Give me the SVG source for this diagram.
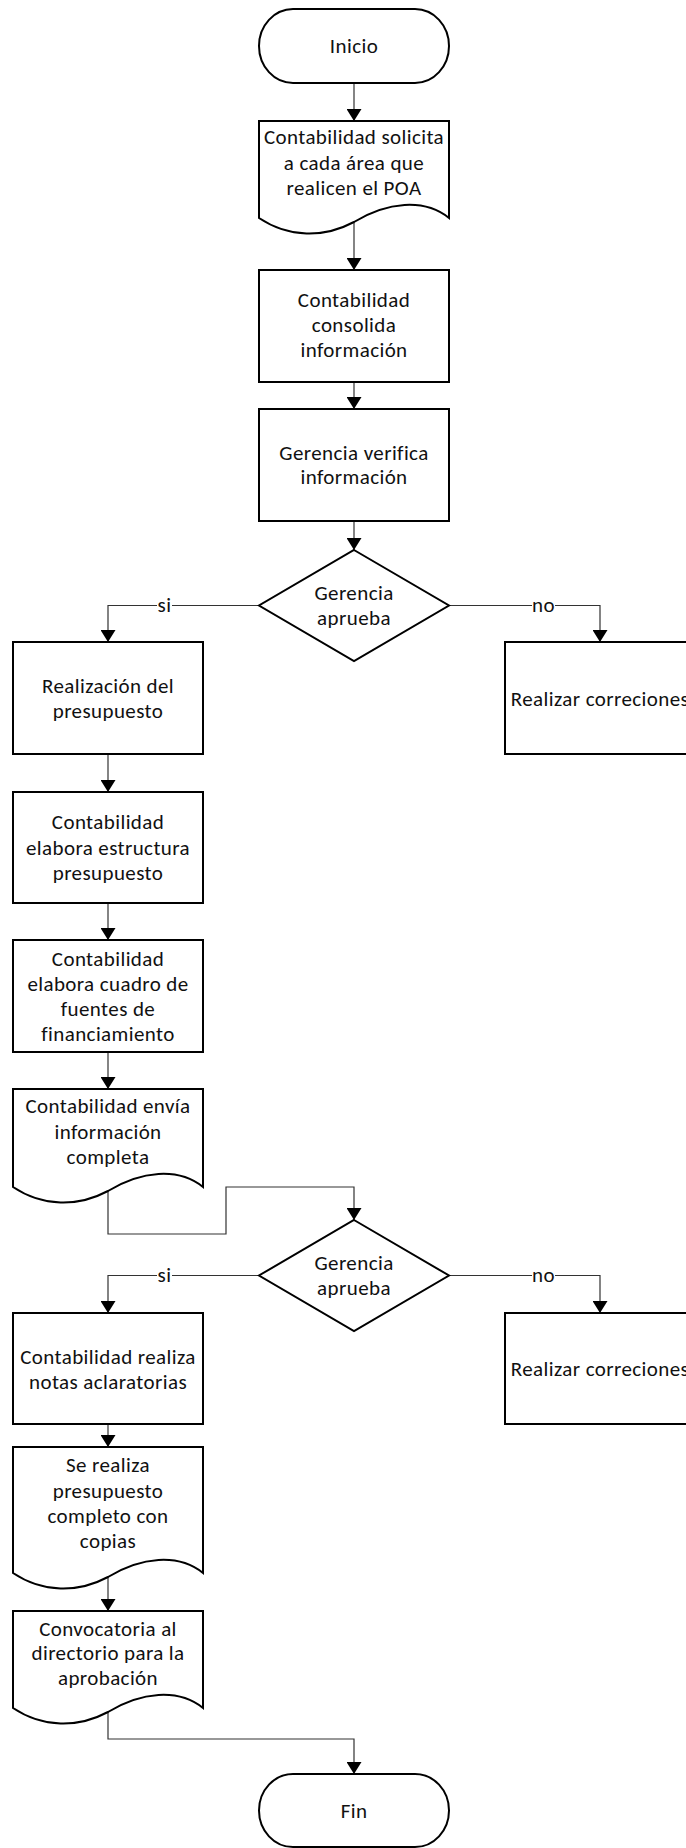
<svg xmlns="http://www.w3.org/2000/svg" width="686" height="1848" viewBox="0 0 686 1848">
  <defs>
    <marker id="arrow" viewBox="0 0 12 15" refX="12" refY="7.5" markerWidth="12" markerHeight="15" markerUnits="userSpaceOnUse" orient="auto">
      <path d="M0,0 L12,7.5 L0,15 Z" fill="#000"/>
    </marker>
    <style>
      .shape { fill: #fff; stroke: #000; stroke-width: 2; }
      .conn { fill: none; stroke: #333; stroke-width: 1.2; }
      .arrow { marker-end: url(#arrow); }
      text { font-family: Calibri, Carlito, "Liberation Sans", Arial, sans-serif; font-size: 21px; letter-spacing: 0.4px; fill: #111; text-anchor: middle; dominant-baseline: central; }
    </style>
  </defs>

  <rect width="686" height="1848" fill="#fff"/>

  <!-- connectors -->
  <g id="connectors">
    <path class="conn arrow" d="M354,83 V121"/>
    <path class="conn arrow" d="M354,222 V270"/>
    <path class="conn arrow" d="M354,382 V409"/>
    <path class="conn arrow" d="M354,521 V550"/>
    <path class="conn arrow" d="M259,605.5 H172 M157,605.5 H108 V642"/>
    <path class="conn arrow" d="M449,605.5 H532 M555,605.5 H600 V642"/>
    <text x="164.5" y="605">si</text>
    <text x="543.5" y="605">no</text>
    <path class="conn arrow" d="M108,754 V792"/>
    <path class="conn arrow" d="M108,903 V940"/>
    <path class="conn arrow" d="M108,1052 V1089"/>
    <path class="conn arrow" d="M108,1191 V1234 H226 V1187 H354 V1220"/>
    <path class="conn arrow" d="M259,1275.5 H172 M157,1275.5 H108 V1313"/>
    <path class="conn arrow" d="M449,1275.5 H532 M555,1275.5 H600 V1313"/>
    <text x="164.5" y="1275">si</text>
    <text x="543.5" y="1275">no</text>
    <path class="conn arrow" d="M108,1424 V1447"/>
    <path class="conn arrow" d="M108,1577 V1611"/>
    <path class="conn arrow" d="M108,1712 V1739 H354 V1774"/>
  </g>

  <!-- start -->
  <g id="inicio">
    <rect class="shape" x="259" y="9" width="190" height="74" rx="34" ry="37"/>
    <text x="354" y="46">Inicio</text>
  </g>

  <g id="solicita-poa">
    <path class="shape" d="M259,121 H449 V218 C424,198 387,202 354,222 C324,238 289,238 259,218 Z"/>
    <text x="354" y="137">Contabilidad solicita</text>
    <text x="354" y="163">a cada área que</text>
    <text x="354" y="188">realicen el POA</text>
  </g>

  <g id="consolida">
    <rect class="shape" x="259" y="270" width="190" height="112"/>
    <text x="354" y="300">Contabilidad</text>
    <text x="354" y="325">consolida</text>
    <text x="354" y="350">información</text>
  </g>

  <g id="verifica">
    <rect class="shape" x="259" y="409" width="190" height="112"/>
    <text x="354" y="453">Gerencia verifica</text>
    <text x="354" y="477">información</text>
  </g>

  <g id="aprueba-1">
    <path class="shape" d="M354,550 L449,605.5 L354,661 L259,605.5 Z"/>
    <text x="354" y="593">Gerencia</text>
    <text x="354" y="618">aprueba</text>
  </g>

  <g id="realizacion">
    <rect class="shape" x="13" y="642" width="190" height="112"/>
    <text x="108" y="686">Realización del</text>
    <text x="108" y="711">presupuesto</text>
  </g>

  <g id="correcciones-1">
    <rect class="shape" x="505" y="642" width="190" height="112"/>
    <text x="600" y="699">Realizar correciones</text>
  </g>

  <g id="estructura">
    <rect class="shape" x="13" y="792" width="190" height="111"/>
    <text x="108" y="822">Contabilidad</text>
    <text x="108" y="848">elabora estructura</text>
    <text x="108" y="873">presupuesto</text>
  </g>

  <g id="financiamiento">
    <rect class="shape" x="13" y="940" width="190" height="112"/>
    <text x="108" y="959">Contabilidad</text>
    <text x="108" y="984">elabora cuadro de</text>
    <text x="108" y="1009">fuentes de</text>
    <text x="108" y="1034">financiamiento</text>
  </g>

  <g id="envia">
    <path class="shape" d="M13,1089 H203 V1187 C178,1167 141,1171 108,1191 C78,1207 43,1207 13,1187 Z"/>
    <text x="108" y="1106">Contabilidad envía</text>
    <text x="108" y="1132">información</text>
    <text x="108" y="1157">completa</text>
  </g>

  <g id="aprueba-2">
    <path class="shape" d="M354,1220 L449,1275.5 L354,1331 L259,1275.5 Z"/>
    <text x="354" y="1263">Gerencia</text>
    <text x="354" y="1288">aprueba</text>
  </g>

  <g id="notas">
    <rect class="shape" x="13" y="1313" width="190" height="111"/>
    <text x="108" y="1357">Contabilidad realiza</text>
    <text x="108" y="1382">notas aclaratorias</text>
  </g>

  <g id="correcciones-2">
    <rect class="shape" x="505" y="1313" width="190" height="111"/>
    <text x="600" y="1369">Realizar correciones</text>
  </g>

  <g id="copias">
    <path class="shape" d="M13,1447 H203 V1573 C178,1553 141,1557 108,1577 C78,1593 43,1593 13,1573 Z"/>
    <text x="108" y="1465">Se realiza</text>
    <text x="108" y="1491">presupuesto</text>
    <text x="108" y="1516">completo con</text>
    <text x="108" y="1541">copias</text>
  </g>

  <g id="convocatoria">
    <path class="shape" d="M13,1611 H203 V1708 C178,1688 141,1692 108,1712 C78,1728 43,1728 13,1708 Z"/>
    <text x="108" y="1629">Convocatoria al</text>
    <text x="108" y="1653">directorio para la</text>
    <text x="108" y="1678">aprobación</text>
  </g>

  <!-- end -->
  <g id="fin">
    <rect class="shape" x="259" y="1774" width="190" height="73" rx="34" ry="36.5"/>
    <text x="354" y="1811">Fin</text>
  </g>
</svg>
